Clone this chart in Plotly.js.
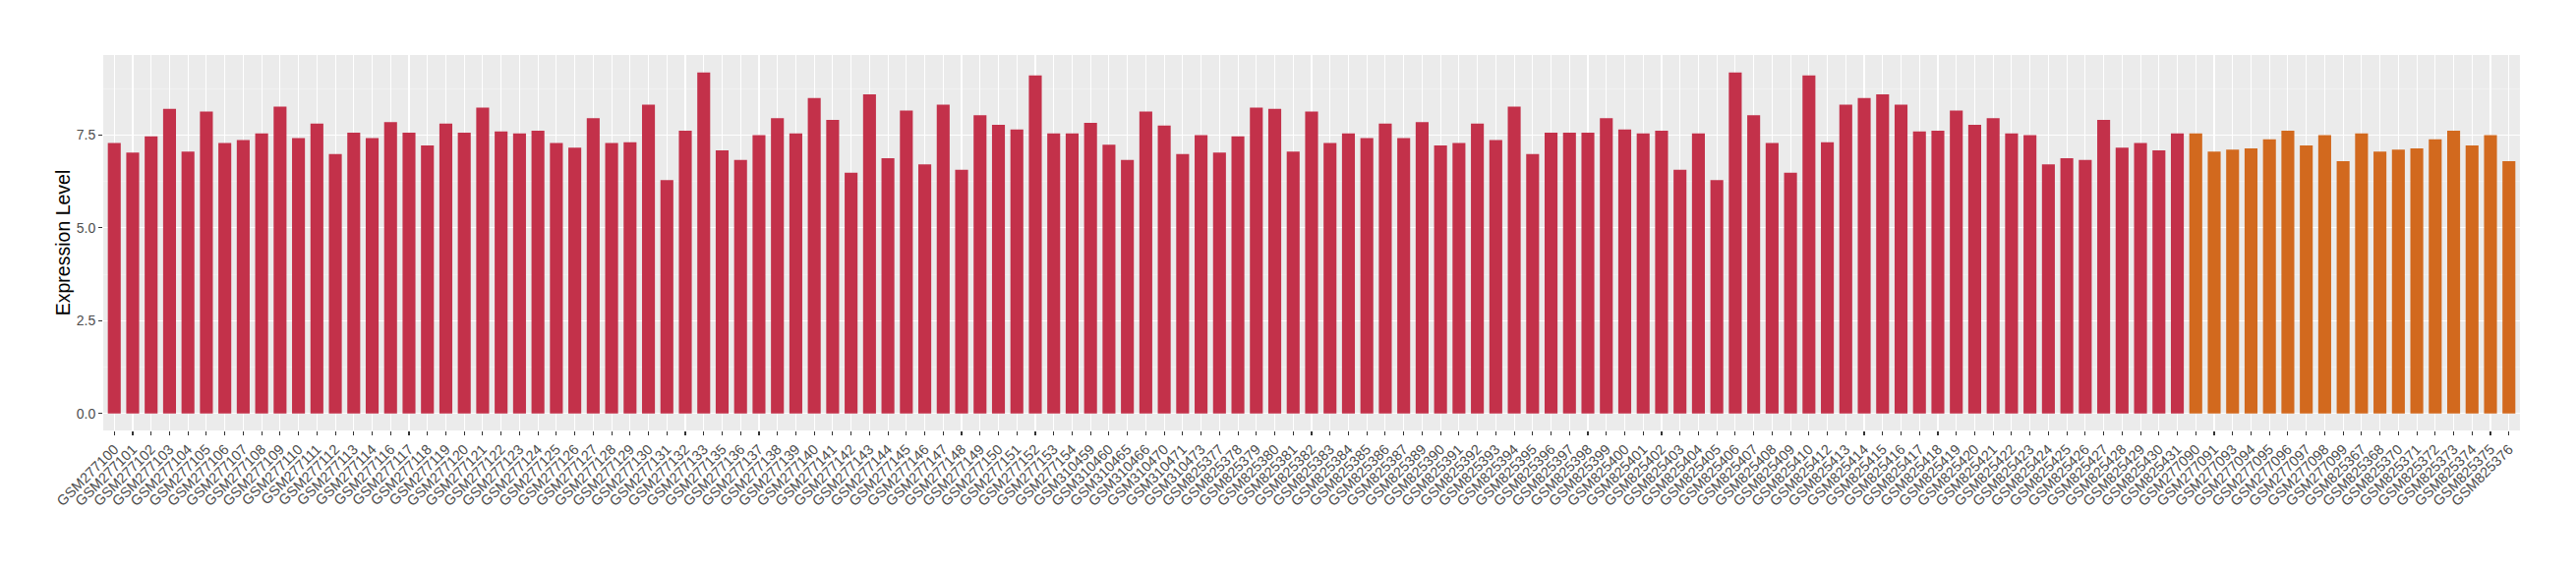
<!DOCTYPE html>
<html>
<head>
<meta charset="utf-8">
<script src="https://cdn.plot.ly/plotly-3.0.1.min.js"></script>
<style>html,body{margin:0;padding:0;background:#fff;}#chart{width:2620px;height:580px;}</style>
</head>
<body>
<div id="chart"></div>
<script>
const samples = [
"GSM277100","GSM277101","GSM277102","GSM277103","GSM277104","GSM277105","GSM277106","GSM277107","GSM277108","GSM277109",
"GSM277110","GSM277111","GSM277112","GSM277113","GSM277114","GSM277116","GSM277117","GSM277118","GSM277119","GSM277120",
"GSM277121","GSM277122","GSM277123","GSM277124","GSM277125","GSM277126","GSM277127","GSM277128","GSM277129","GSM277130",
"GSM277131","GSM277132","GSM277133","GSM277135","GSM277136","GSM277137","GSM277138","GSM277139","GSM277140","GSM277141",
"GSM277142","GSM277143","GSM277144","GSM277145","GSM277146","GSM277147","GSM277148","GSM277149","GSM277150","GSM277151",
"GSM277152","GSM277153","GSM277154","GSM310459","GSM310460","GSM310465","GSM310466","GSM310470","GSM310471","GSM310473",
"GSM825377","GSM825378","GSM825379","GSM825380","GSM825381","GSM825382","GSM825383","GSM825384","GSM825385","GSM825386",
"GSM825387","GSM825389","GSM825390","GSM825391","GSM825392","GSM825393","GSM825394","GSM825395","GSM825396","GSM825397",
"GSM825398","GSM825399","GSM825400","GSM825401","GSM825402","GSM825403","GSM825404","GSM825405","GSM825406","GSM825407",
"GSM825408","GSM825409","GSM825410","GSM825412","GSM825413","GSM825414","GSM825415","GSM825416","GSM825417","GSM825418",
"GSM825419","GSM825420","GSM825421","GSM825422","GSM825423","GSM825424","GSM825425","GSM825426","GSM825427","GSM825428",
"GSM825429","GSM825430","GSM825431",
"GSM277090","GSM277091","GSM277093","GSM277094","GSM277095","GSM277096","GSM277097","GSM277098","GSM277099",
"GSM825367","GSM825368","GSM825370","GSM825371","GSM825372","GSM825373","GSM825374","GSM825375","GSM825376"
];
const values = [
7.29,7.03,7.47,8.21,7.06,8.14,7.29,7.37,7.55,8.27,
7.42,7.81,6.99,7.57,7.42,7.85,7.57,7.22,7.81,7.57,
8.24,7.60,7.55,7.62,7.29,7.16,7.96,7.29,7.31,8.32,
6.29,7.62,9.19,7.09,6.83,7.50,7.96,7.55,8.50,7.91,
6.49,8.60,6.88,8.16,6.71,8.32,6.57,8.04,7.78,7.65,
9.11,7.55,7.55,7.83,7.24,6.83,8.14,7.76,6.99,7.50,
7.03,7.47,8.24,8.21,7.06,8.14,7.29,7.55,7.42,7.81,
7.42,7.85,7.22,7.29,7.81,7.37,8.27,6.99,7.57,7.57,
7.57,7.96,7.65,7.55,7.62,6.57,7.55,6.29,9.19,8.04,
7.29,6.49,9.11,7.31,8.32,8.50,8.60,8.32,7.60,7.62,
8.16,7.78,7.96,7.55,7.50,6.71,6.88,6.83,7.91,7.16,
7.29,7.09,7.55,
7.55,7.06,7.11,7.14,7.39,7.62,7.22,7.50,6.80,
7.55,7.06,7.11,7.14,7.39,7.62,7.22,7.50,6.80
];
const groups = samples.map((s, i) => i < 113 ? "A" : "B");
const groupColors = {A: "#C3314A", B: "#D2691E"};

const trace = {
  type: "bar",
  x: samples,
  y: values,
  width: 0.7,
  marker: {color: groups.map(g => groupColors[g]), line: {width: 0}},
  hoverinfo: "x+y",
  showlegend: false
};

const layout = {
  width: 2620,
  height: 580,
  margin: {l: 105, r: 57, t: 56, b: 142, pad: 0},
  paper_bgcolor: "#FFFFFF",
  plot_bgcolor: "#EBEBEB",
  font: {family: "Liberation Sans, Arial, Helvetica, sans-serif", color: "#4D4D4D", size: 14},
  showlegend: false,
  xaxis: {
    type: "category",
    categoryorder: "array",
    categoryarray: samples,
    range: [-0.6, samples.length - 0.4],
    tickmode: "linear",
    tick0: 0,
    dtick: 1,
    tickangle: -45,
    showgrid: true,
    gridcolor: "#FFFFFF",
    gridwidth: 1.1,
    zeroline: false,
    showline: false,
    ticks: "outside",
    ticklen: 4,
    tickwidth: 1.1,
    tickcolor: "#333333",
    tickfont: {size: 14.5, color: "#4D4D4D"},
    automargin: false,
    fixedrange: true
  },
  yaxis: {
    range: [-0.46, 9.66],
    tick0: 0,
    dtick: 2.5,
    tickformat: ".1f",
    showgrid: true,
    gridcolor: "#FFFFFF",
    gridwidth: 1.1,
    minor: {tick0: 0, dtick: 1.25, showgrid: true, gridcolor: "#F5F5F5", gridwidth: 0.6, ticks: ""},
    zeroline: false,
    showline: false,
    ticks: "outside",
    ticklen: 4,
    tickwidth: 1.1,
    tickcolor: "#333333",
    tickfont: {size: 14, color: "#4D4D4D"},
    title: {text: "Expression Level", font: {size: 19.5, color: "#000000"}, standoff: 0},
    automargin: false,
    fixedrange: true
  }
};

Plotly.newPlot("chart", [trace], layout, {displayModeBar: false, staticPlot: true});
</script>
</body>
</html>
